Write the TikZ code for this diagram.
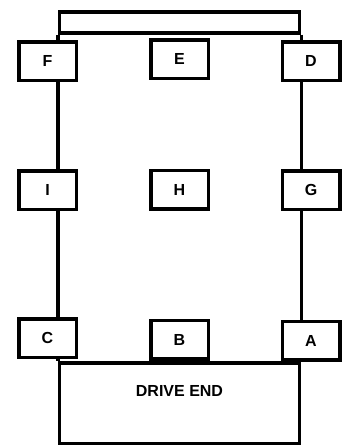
\documentclass[tikz,border=0pt]{standalone}
\usepackage{fontspec}
\setmainfont{Liberation Sans}
\begin{document}
\begin{tikzpicture}[x=1pt, y=-1pt, font=\bfseries\fontsize{16}{16}\selectfont,
		frame/.style={line width=3.5pt},
		sensor/.style={rectangle, draw, fill=white, line width=3.5pt, minimum width=57.5pt, minimum height=38.5pt, inner sep=0pt}]
		\useasboundingbox (0,0) rectangle (343,445);
		% top bar and drive end
		\node[frame, draw, fill=white, minimum width=240pt, minimum height=21pt, inner sep=0pt] (topbar) at (179.5,22.25) {};
		\node[frame, draw, fill=white, minimum width=240pt, minimum height=80.5pt, inner sep=0pt] (drive) at (179.5,403) {};
		\node (drivelbl) at (179.5,391) {DRIVE END};
		% side lines
		\draw[frame] (topbar.south west) -- (drive.north west);
		\draw[frame] (topbar.south east) -- (drive.north east);
		% measuring points
		\foreach \n/\x/\y in {F/47.5/61, E/179.5/59, D/311/61,
			I/47.5/190, H/179.5/189.5, G/311/190,
			C/47.5/338, B/179.5/339.5, A/311/340.5} {
			\node[sensor] (\n) at (\x,\y) {\n};
		};
\end{tikzpicture}
\end{document}
